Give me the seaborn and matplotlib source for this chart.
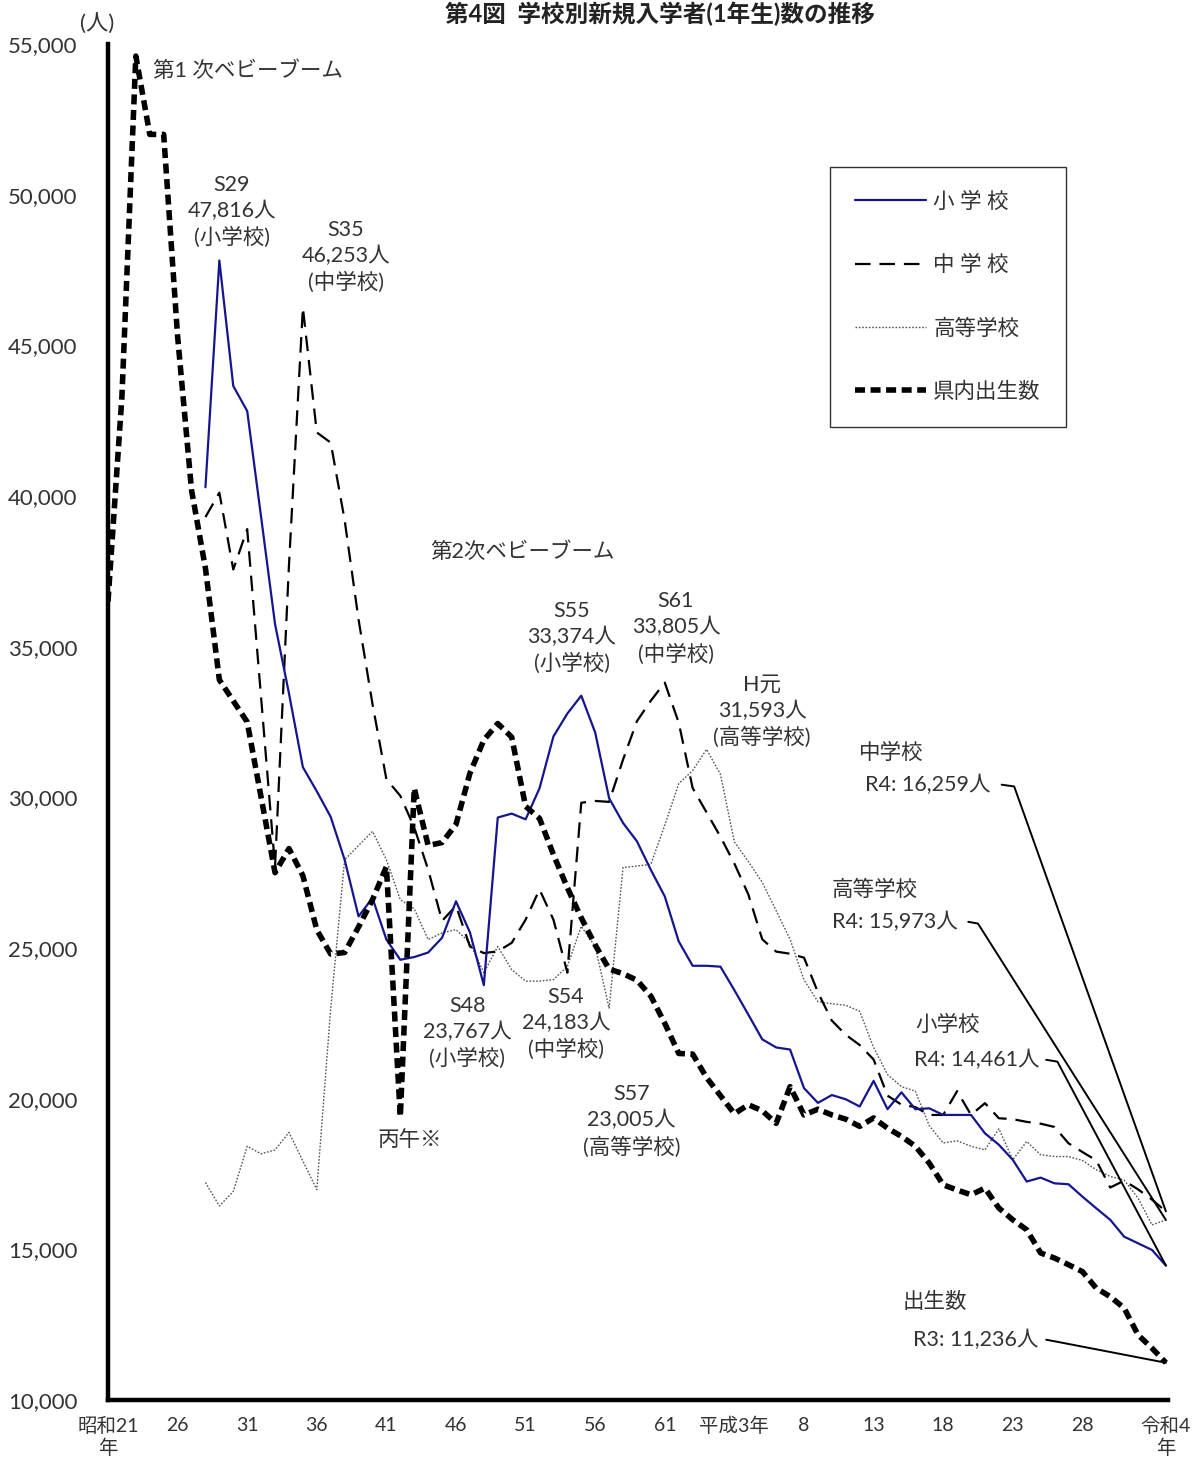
import numpy as np
import pandas as pd
import matplotlib
matplotlib.use("Agg")
import matplotlib.pyplot as plt
import seaborn as sns

# ---- data ----
birth_years = list(range(1946, 2023))   # 県内出生数 (plotted position)
births = [36500, 43300, 54600, 52000, 52000, 45300, 40200, 37600, 33900, 33200,
          32500, 30000, 27500, 28300, 27400, 25600, 24800, 24850, 25700, 26600,
          27700, 19400, 30300, 28400, 28500, 29100, 30800, 31900, 32450, 32000,
          29700, 29300, 28100, 27000, 26000, 25100, 24300, 24150, 23930, 23400,
          22500, 21500, 21480, 20700, 20100, 19500, 19800, 19600, 19180, 20400,
          19460, 19650, 19460, 19320, 19080, 19360, 19020, 18750, 18420, 17860,
          17140, 16970, 16810, 17030, 16370, 15980, 15650, 14880, 14710, 14490,
          14260, 13710, 13430, 13050, 12160, 11720, 11236]

school_years = list(range(1953, 2023))
shogakko = [40290, 47816, 43650, 42820, 39300, 35750, 33450, 31000, 30200, 29350,
            27930, 26050, 26660, 25280, 24610, 24700, 24850, 25340, 26550, 25520,
            23767, 29330, 29460, 29270, 30300, 32020, 32780, 33374, 32150, 29970,
            29150, 28540, 27590, 26710, 25220, 24410, 24410, 24380, 23600, 22790,
            21970, 21700, 21630, 20350, 19860, 20120, 19980, 19740, 20590, 19650,
            20210, 19650, 19680, 19460, 19460, 19460, 18850, 18470, 17970, 17250,
            17380, 17190, 17160, 16750, 16360, 15980, 15420, 15200, 14980, 14461]
chugakko = [39300, 40110, 37560, 38900, 33300, 27700, 37700, 46253, 42110, 41770,
            39200, 35900, 33100, 30600, 30050, 29000, 27600, 25900, 26400, 25050,
            24830, 24890, 25170, 25940, 26940, 25940, 24183, 29820, 29880, 29850,
            31250, 32530, 33210, 33805, 32480, 30310, 29500, 28690, 27800, 26780,
            25290, 24880, 24810, 24680, 23530, 22590, 22120, 21780, 21300, 20100,
            19800, 19720, 19460, 19460, 20250, 19460, 19850, 19350, 19320, 19230,
            19170, 19060, 18520, 18230, 17950, 17050, 17280, 16990, 16650, 16259]
koko = [17220, 16440, 16920, 18420, 18170, 18300, 18880, 17930, 16980, 23000,
        27930, 28400, 28870, 27930, 26600, 26300, 25280, 25500, 25610, 25170,
        24180, 25050, 24280, 23900, 23900, 23950, 24390, 25720, 25050, 23005,
        27670, 27720, 27780, 29080, 30450, 30890, 31593, 30760, 28520, 27870,
        27180, 26240, 25290, 23940, 23220, 23150, 23100, 22900, 21700, 20800,
        20400, 20250, 19100, 18530, 18600, 18420, 18300, 19000, 17970, 18580,
        18140, 18080, 18080, 17950, 17640, 17420, 17300, 16700, 15810, 15973]

tick_years = [1946, 1951, 1956, 1961, 1966, 1971, 1976, 1981, 1986, 1991,
              1996, 2001, 2006, 2011, 2016, 2022]
tick_labels = ['昭和21\n年', '26', '31', '36', '41', '46', '51', '56', '61', '平成3年',
               '8', '13', '18', '23', '28', '令和4\n年']

births_df = pd.DataFrame({'year': birth_years, 'n': births})
school_df = pd.DataFrame({'year': school_years, 'sho': shogakko,
                          'chu': chugakko, 'ko': koko})

sns.set_style('white')
plt.rcParams['font.family'] = ['Lato', 'Noto Sans CJK JP', 'DejaVu Sans']
txt_col = '#333333'

fig = plt.figure(figsize=(11.92, 14.59), dpi=100)
ax = fig.add_axes([108/1192, 59/1459, 1060/1192, 1356/1459])

sns.lineplot(data=school_df, x='year', y='ko', ax=ax, color='#555555',
             linewidth=1.0, linestyle=(0, (1.2, 1.2)))
sns.lineplot(data=school_df, x='year', y='chu', ax=ax, color='black',
             linewidth=1.6, linestyle=(0, (7, 4)))
sns.lineplot(data=school_df, x='year', y='sho', ax=ax, color='#15158f',
             linewidth=1.6)
sns.lineplot(data=births_df, x='year', y='n', ax=ax, color='black',
             linewidth=4.0, linestyle=(0, (1.8, 1.0)))
lines = ax.get_lines()

ax.set_xlim(1946, 2022.15)
ax.set_ylim(10000, 55000)
ax.set_xlabel('')
ax.set_ylabel('')
for s in ['top', 'right']:
    ax.spines[s].set_visible(False)
for s in ['left', 'bottom']:
    ax.spines[s].set_linewidth(3.2)
    ax.spines[s].set_color('black')

ax.set_yticks(range(10000, 55001, 5000))
ax.set_yticklabels([f'{v:,}' for v in range(10000, 55001, 5000)],
                   fontsize=16, color=txt_col)
ax.tick_params(axis='y', direction='in', length=7, width=2.5, pad=22)
ax.set_xticks(tick_years)
ax.set_xticklabels(tick_labels, fontsize=14, color=txt_col, linespacing=1.25)
ax.tick_params(axis='x', direction='inout', length=12, width=2, pad=6)
ax.text(1946 - 2.0, 55300, '(人)', fontsize=16, color=txt_col, ha='left', va='bottom')

# legend
leg = ax.legend([lines[2], lines[1], lines[0], lines[3]],
                ['小 学 校', '中 学 校', '高等学校', '県内出生数'],
                loc='upper left', bbox_to_anchor=(830/1192, 1 - 167/1459),
                bbox_transform=fig.transFigure, fontsize=15.5, frameon=True,
                fancybox=False, edgecolor='black', handlelength=3.3,
                labelspacing=2.0, borderpad=1.15, handletextpad=0.35,
                borderaxespad=0)
leg.get_frame().set_linewidth(1.0)
for t in leg.get_texts():
    t.set_color(txt_col)
leg._legend_box.align = 'left'

# annotations
fs = 15.5
def note(x, y, s, ha='center'):
    ax.text(x, y, s, fontsize=fs, color=txt_col, ha=ha, va='center',
            linespacing=1.35)

note(1949.2, 54100, '第1 次ベビーブーム', ha='left')
note(1954.9, 49450, 'S29\n47,816人\n(小学校)')
note(1963.1, 47950, 'S35\n46,253人\n(中学校)')
note(1975.8, 38150, '第2次ベビーブーム')
note(1979.3, 35300, 'S55\n33,374人\n(小学校)')
note(1986.8, 35630, 'S61\n33,805人\n(中学校)')
note(1993.0, 32850, 'H元\n31,593人\n(高等学校)')
note(1971.8, 22200, 'S48\n23,767人\n(小学校)')
note(1978.9, 22500, 'S54\n24,183人\n(中学校)')
note(1983.6, 19260, 'S57\n23,005人\n(高等学校)')
note(1967.7, 18630, '丙午※')

# end labels with leader lines
ends = [
    ('中学校', f'R4: {chugakko[-1]:,}人', 2002.3, 31490, 2004.9, 30420, 2010.2, 2011.1, chugakko[-1]),
    ('高等学校', f'R4: {koko[-1]:,}人', 2001.1, 26940, 2002.5, 25870, 2007.8, 2008.5, koko[-1]),
    ('小学校', f'R4: {shogakko[-1]:,}人', 2006.3, 22450, 2008.4, 21290, 2013.4, 2014.2, shogakko[-1]),
    ('出生数', f'R3: {births[-1]:,}人', 2005.4, 13250, 2008.3, 12000, 2013.4, 2014.1, births[-1]),
]
for name, lab, x1, y1, x2, y2, lx0, lx1, yv in ends:
    note(x1, y1, name)
    note(x2, y2, lab)
    ax.plot([lx0, lx1, school_years[-1]], [y2, y2 - 60, yv], color='black',
            linewidth=1.4, clip_on=False)

fig.text(660/1192, 0.999, '第4図  学校別新規入学者(1年生)数の推移',
         fontsize=17, fontweight='bold', ha='center', va='top', color='#222222')

fig.savefig('out.png', dpi=100)
